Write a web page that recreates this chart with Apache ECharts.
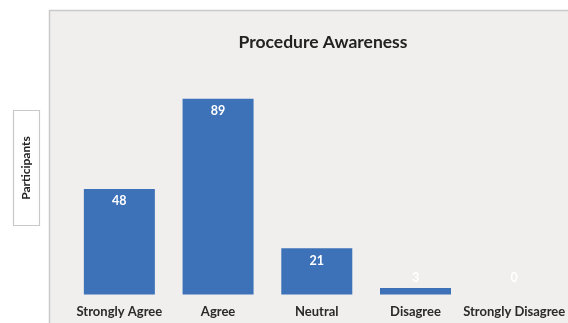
<!DOCTYPE html>
<html lang="en">
<head>
<meta charset="UTF-8">
<script src="https://cdn.jsdelivr.net/npm/echarts@6/dist/echarts.min.js"></script>
<title>Procedure Awareness</title>
<style>
  html, body { margin: 0; padding: 0; background: #fff; }
  #chart { width: 568px; height: 323px; }
</style>
</head>
<body>
<div id="chart"></div>
<script>
  const categories = ['Strongly Agree', 'Agree', 'Neutral', 'Disagree', 'Strongly Disagree'];
  const participants = [48, 89, 21, 3, 0];

  const font = 'Lato, "DejaVu Sans", sans-serif';
  const chart = echarts.init(document.getElementById('chart'));

  // small bars get their label above the bar, like the original
  const barData = participants.map(function (v) {
    if (v >= 10) return v;
    return { value: v, label: { position: 'top', distance: v > 0 ? 3 : 10 } };
  });

  chart.setOption({
    animation: false,
    backgroundColor: '#fff',
    graphic: [
      {
        type: 'rect', z: -10, silent: true,
        shape: { x: 49.5, y: 10.5, width: 540, height: 340 },
        style: { fill: '#f0efed', stroke: '#c9c9c9', lineWidth: 1.5 }
      },
      {
        type: 'rect', silent: true,
        shape: { x: 13.5, y: 110.5, width: 26, height: 115 },
        style: { fill: '#fff', stroke: '#c9c9c9', lineWidth: 1.2 }
      },
      {
        type: 'text', silent: true,
        x: 26.5, y: 168, rotation: Math.PI / 2,
        style: {
          text: 'Participants', font: 'bold 12px ' + font, fill: '#222',
          align: 'center', verticalAlign: 'middle'
        }
      }
    ],
    title: {
      text: 'Procedure Awareness',
      left: 318, top: 28, textAlign: 'center',
      textStyle: { fontFamily: font, fontSize: 17.5, fontWeight: 'bold', color: '#222' }
    },
    grid: { left: 70, right: 2, top: 74.5, bottom: 28.5 },
    xAxis: {
      type: 'category',
      data: categories,
      axisLine: { show: false },
      axisTick: { show: false },
      axisLabel: {
        interval: 0, margin: 11,
        fontFamily: font, fontSize: 13, fontWeight: 'bold', color: '#2a2a2a'
      }
    },
    yAxis: {
      type: 'value', min: 0, max: 100,
      show: false
    },
    series: [{
      type: 'bar',
      data: barData,
      barWidth: 71,
      itemStyle: { color: '#3d72b8' },
      label: {
        show: true, position: 'insideTop', distance: 6,
        color: '#fff', fontFamily: font, fontSize: 12.5, fontWeight: 'bold'
      }
    }]
  });
</script>
</body>
</html>
